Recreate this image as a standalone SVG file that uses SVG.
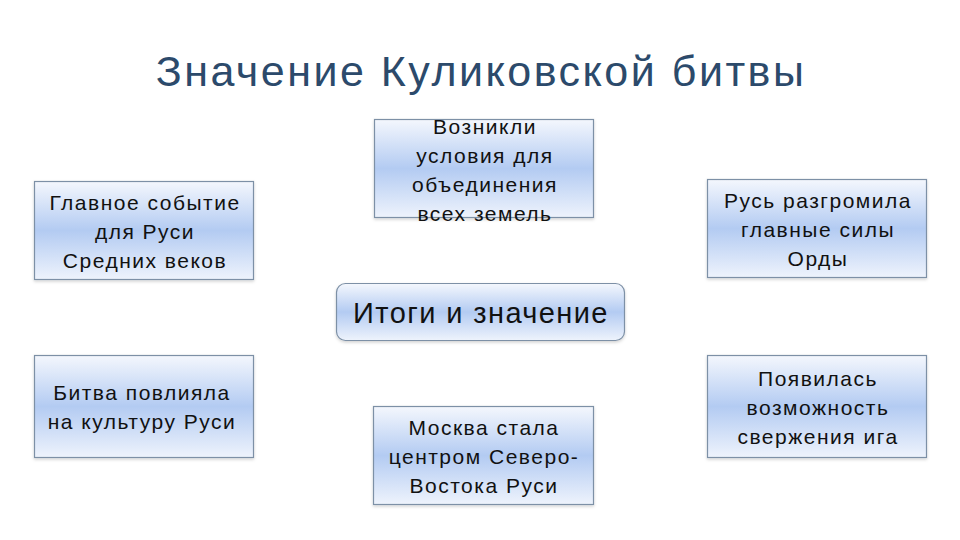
<svg xmlns="http://www.w3.org/2000/svg" width="960" height="540" viewBox="0 0 960 540">
<defs>
<linearGradient id="g" x1="0" y1="0" x2="0" y2="1">
<stop offset="0" stop-color="#f4f7fd"/>
<stop offset="0.5" stop-color="#b3cbf2"/>
<stop offset="1" stop-color="#eef3fc"/>
</linearGradient>
<filter id="sh" x="-10%" y="-10%" width="120%" height="130%">
<feDropShadow dx="0" dy="1.5" stdDeviation="1.5" flood-color="#000" flood-opacity="0.18"/>
</filter>
</defs>
<style>
.box{fill:url(#g);stroke:#7d90a6;stroke-width:1.2;filter:url(#sh)}
.t{font-family:"Liberation Sans","DejaVu Sans",sans-serif;font-size:21px;letter-spacing:1.5px;fill:#111;text-anchor:middle}
.title{font-family:"Liberation Sans","DejaVu Sans",sans-serif;font-size:43px;letter-spacing:2.5px;fill:#2c4a6b;text-anchor:middle}
.c{font-family:"Liberation Sans","DejaVu Sans",sans-serif;font-size:29px;letter-spacing:1.4px;fill:#111;text-anchor:middle}
</style>
<rect width="960" height="540" fill="#fff"/>
<text class="title" x="481" y="86">Значение Куликовской битвы</text>
<g id="connectors"/>
<g id="n-top">
<rect class="box" x="374.5" y="119.5" width="219" height="98"/>
<text class="t" x="485" y="134">Возникли</text>
<text class="t" x="485" y="163">условия для</text>
<text class="t" x="485" y="192">объединения</text>
<text class="t" x="485" y="221">всех земель</text>
</g>
<g id="n-lefttop">
<rect class="box" x="34.5" y="181.5" width="219" height="98"/>
<text class="t" x="145" y="210">Главное событие</text>
<text class="t" x="145" y="239">для Руси</text>
<text class="t" x="145" y="268">Средних веков</text>
</g>
<g id="n-righttop">
<rect class="box" x="707.5" y="179.5" width="219" height="98"/>
<text class="t" x="818" y="208">Русь разгромила</text>
<text class="t" x="818" y="237">главные силы</text>
<text class="t" x="818" y="266">Орды</text>
</g>
<g id="n-center">
<rect class="box" x="336.5" y="283.5" width="288" height="57" rx="9"/>
<text class="c" x="481" y="323">Итоги и значение</text>
</g>
<g id="n-leftbottom">
<rect class="box" x="34.5" y="355.5" width="219" height="102"/>
<text class="t" x="142" y="400">Битва повлияла</text>
<text class="t" x="142" y="429">на культуру Руси</text>
</g>
<g id="n-bottom">
<rect class="box" x="373.5" y="406.5" width="220" height="98"/>
<text class="t" x="484" y="435">Москва стала</text>
<text class="t" x="484" y="464">центром Северо-</text>
<text class="t" x="484" y="493">Востока Руси</text>
</g>
<g id="n-rightbottom">
<rect class="box" x="707.5" y="355.5" width="219" height="102"/>
<text class="t" x="818" y="386">Появилась</text>
<text class="t" x="818" y="415">возможность</text>
<text class="t" x="818" y="444">свержения ига</text>
</g>
</svg>
